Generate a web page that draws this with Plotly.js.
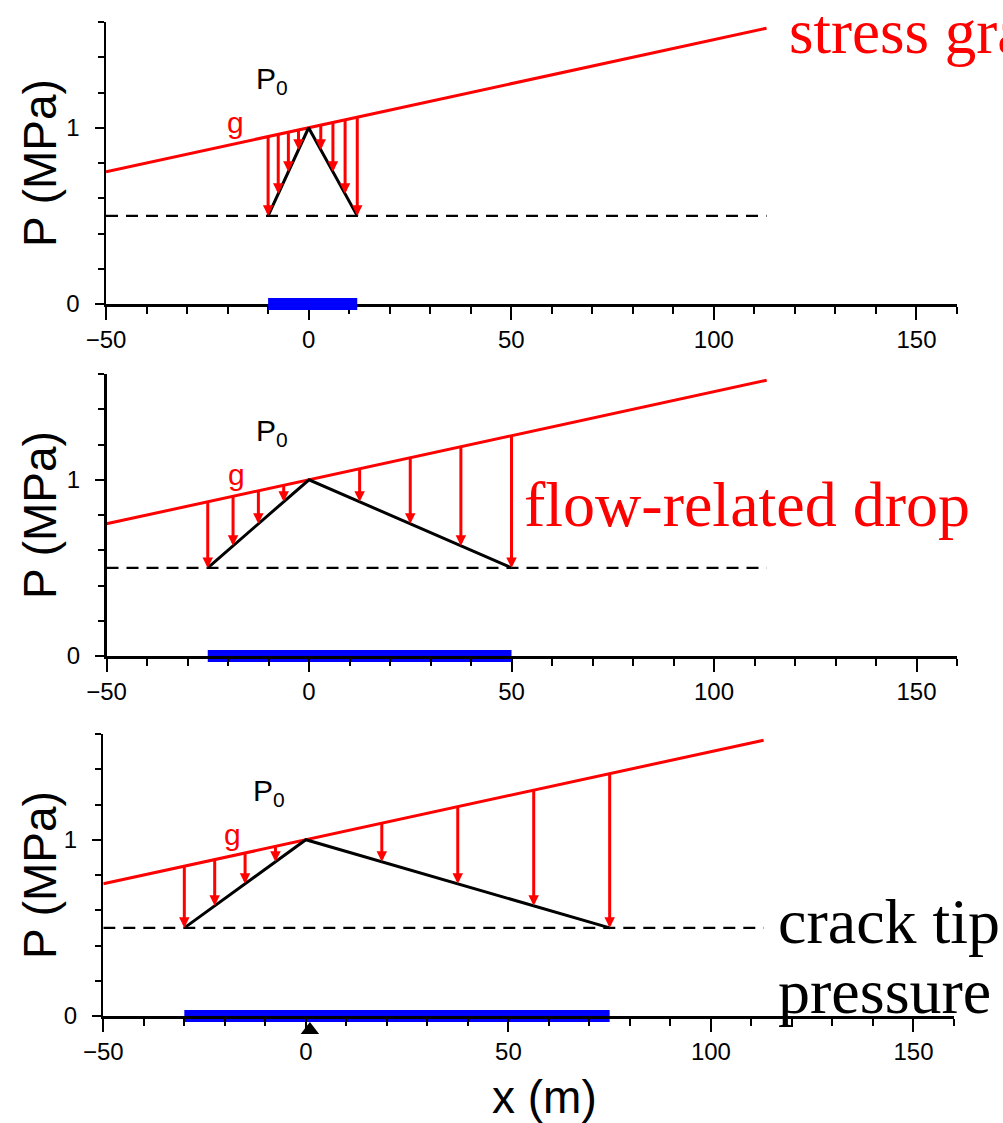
<!DOCTYPE html>
<html><head><meta charset="utf-8">
<script src="https://cdn.plot.ly/plotly-3.0.1.min.js"></script>
<style>html,body{margin:0;padding:0;background:#fff}</style>
</head><body><div id="chart" style="width:1003px;height:1123px"></div>
<script>
// ---------- data ----------
const xRange = [-50, 160];
const yRange = [0, 1.6];
const stressX = [-50, 113];
const stressY = [0.75, 1.565];
const tipPressureX = [-50, 113];
const tipPressureY = [0.5, 0.5];

const profile1X = [-10, 0, 12];
const profile1Y = [0.5, 1, 0.5];
const profile2X = [-25, 0, 50];
const profile2Y = [0.5, 1, 0.5];
const profile3X = [-30, 0, 75];
const profile3Y = [0.5, 1, 0.5];

const crack1 = [-10, 12];
const crack2 = [-25, 50];
const crack3 = [-30, 75];

const arrows1X = [-10, -7.5, -5, -2.5, 3, 6, 9, 12];
const arrows1Top = [0.95, 0.9625, 0.975, 0.9875, 1.015, 1.03, 1.045, 1.06];
const arrows1Bottom = [0.5, 0.625, 0.75, 0.875, 0.875, 0.75, 0.625, 0.5];

const arrows2X = [-25, -18.75, -12.5, -6.25, 12.5, 25, 37.5, 50];
const arrows2Top = [0.875, 0.906, 0.9375, 0.969, 1.0625, 1.125, 1.1875, 1.25];
const arrows2Bottom = [0.5, 0.625, 0.75, 0.875, 0.875, 0.75, 0.625, 0.5];

const arrows3X = [-30, -22.5, -15, -7.5, 18.75, 37.5, 56.25, 75];
const arrows3Top = [0.85, 0.8875, 0.925, 0.9625, 1.094, 1.1875, 1.281, 1.375];
const arrows3Bottom = [0.5, 0.625, 0.75, 0.875, 0.875, 0.75, 0.625, 0.5];

const injectionX = [1];
const injectionY = [0.5];

// ---------- layout helpers ----------
const W = 1003, H = 1123;
const SANS = 'Liberation Sans, Arial, sans-serif';
const SERIF = 'Liberation Serif, Times New Roman, serif';
const RED = '#ff0000', BLUE = '#0000ff';

function px2fx(p) { return p / W; }
function px2fy(p) { return 1 - p / H; }

function xAxis(dom, anchor) {
  return {
    domain: dom, range: xRange, anchor: anchor, showgrid: false, zeroline: false,
    showline: true, linecolor: 'black', linewidth: 2.5, mirror: false,
    ticks: 'outside', ticklen: 13, tickwidth: 2, tickcolor: 'black',
    tick0: 0, dtick: 50, ticklabelstandoff: 0,
    tickfont: {family: SANS, size: 24, color: 'black'},
    minor: {dtick: 10, tick0: 0, ticks: 'outside', ticklen: 7, tickwidth: 2, tickcolor: 'black', showgrid: false},
    fixedrange: true
  };
}
function yAxis(dom, anchor) {
  return {
    domain: dom, range: yRange, anchor: anchor, showgrid: false, zeroline: false,
    showline: true, linecolor: 'black', linewidth: 2.5,
    ticks: 'outside', ticklen: 9, tickwidth: 2, tickcolor: 'black',
    tick0: 0, dtick: 1, ticklabelstandoff: 10,
    tickfont: {family: SANS, size: 24, color: 'black'},
    minor: {dtick: 0.2, tick0: 0, ticks: 'outside', ticklen: 6, tickwidth: 2, tickcolor: 'black', showgrid: false},
    fixedrange: true
  };
}

const panels = [
  {xa: 'x', ya: 'y', px: [106, 957], py: [22, 304], profX: profile1X, profY: profile1Y, crack: crack1,
   ax: arrows1X, at: arrows1Top, ab: arrows1Bottom, barLayer: 'above'},
  {xa: 'x2', ya: 'y2', px: [106.5, 957], py: [374, 656], profX: profile2X, profY: profile2Y, crack: crack2,
   ax: arrows2X, at: arrows2Top, ab: arrows2Bottom, barLayer: 'below'},
  {xa: 'x3', ya: 'y3', px: [103.3, 954], py: [734, 1016], profX: profile3X, profY: profile3Y, crack: crack3,
   ax: arrows3X, at: arrows3Top, ab: arrows3Bottom, barLayer: 'below'}
];

const traces = [];
const shapes = [];
const annotations = [];
const layout = {
  width: W, height: H, margin: {l: 0, r: 0, t: 0, b: 0},
  paper_bgcolor: 'white', plot_bgcolor: 'rgba(0,0,0,0)', showlegend: false,
  font: {family: SANS, color: 'black'}
};

panels.forEach((p, i) => {
  const xName = i === 0 ? 'xaxis' : 'xaxis' + (i + 1);
  const yName = i === 0 ? 'yaxis' : 'yaxis' + (i + 1);
  layout[xName] = xAxis([px2fx(p.px[0]), px2fx(p.px[1])], p.ya);
  layout[yName] = yAxis([px2fy(p.py[1]), px2fy(p.py[0])], p.xa);

  traces.push({x: stressX, y: stressY, xaxis: p.xa, yaxis: p.ya, mode: 'lines',
    line: {color: RED, width: 3}, hoverinfo: 'skip'});
  traces.push({x: tipPressureX, y: tipPressureY, xaxis: p.xa, yaxis: p.ya, mode: 'lines',
    line: {color: 'black', width: 2.2, dash: '12px,8px'}, hoverinfo: 'skip'});
  traces.push({x: p.profX, y: p.profY, xaxis: p.xa, yaxis: p.ya, mode: 'lines',
    line: {color: 'black', width: 3}, hoverinfo: 'skip'});

  shapes.push({type: 'rect', xref: p.xa, yref: p.ya + ' domain', x0: p.crack[0], x1: p.crack[1],
    y0: -0.021, y1: 0.021, fillcolor: BLUE, line: {width: 0}, layer: p.barLayer});

  p.ax.forEach((xv, k) => {
    annotations.push({xref: p.xa, yref: p.ya, axref: p.xa, ayref: p.ya,
      x: xv, y: p.ab[k], ax: xv, ay: p.at[k], text: '', showarrow: true,
      arrowhead: 2, arrowsize: 0.7, arrowwidth: 3, arrowcolor: RED,
      standoff: 0, startstandoff: 0, borderpad: 0});
  });

  annotations.push({xref: p.xa, yref: p.ya, x: -13.5, y: 1.27, xanchor: 'left', yanchor: 'middle',
    text: 'P<sub>0</sub>', showarrow: false, font: {family: SANS, size: 30, color: 'black'}});
  annotations.push({xref: p.xa, yref: p.ya, x: -18, y: 1.03, xanchor: 'center', yanchor: 'middle',
    text: 'g', showarrow: false, font: {family: SANS, size: 30, color: RED}});

  annotations.push({xref: 'paper', yref: 'paper', x: px2fx(40), y: px2fy((p.py[0] + p.py[1]) / 2),
    xanchor: 'center', yanchor: 'middle', textangle: -90, text: 'P (MPa)', showarrow: false,
    font: {family: SANS, size: 46, color: 'black'}});
});

// injection point marker: a thin hidden y-axis strip just under the bottom panel's x axis
layout.yaxis4 = {domain: [px2fy(1042), px2fy(1018)], range: [0, 1], anchor: 'x3', visible: false, fixedrange: true};
traces.push({x: injectionX, y: injectionY, xaxis: 'x3', yaxis: 'y4', mode: 'markers', cliponaxis: false,
  marker: {symbol: 'triangle-up', size: 16, color: 'black', line: {width: 0}}, hoverinfo: 'skip'});

annotations.push({xref: 'paper', yref: 'paper', x: px2fx(544), y: px2fy(1097), xanchor: 'center', yanchor: 'middle',
  text: 'x (m)', showarrow: false, font: {family: SANS, size: 46, color: 'black'}});

annotations.push({xref: 'paper', yref: 'paper', x: px2fx(787), y: px2fy(32), xanchor: 'left', yanchor: 'middle',
  text: 'stress gradient', showarrow: false, font: {family: SERIF, size: 63, color: RED}});
annotations.push({xref: 'paper', yref: 'paper', x: px2fx(522), y: px2fy(504), xanchor: 'left', yanchor: 'middle',
  text: 'flow-related drop', showarrow: false, font: {family: SERIF, size: 64, color: RED}});
annotations.push({xref: 'paper', yref: 'paper', x: px2fx(776), y: px2fy(921), xanchor: 'left', yanchor: 'middle',
  text: 'crack tip', showarrow: false, font: {family: SERIF, size: 64, color: 'black'}});
annotations.push({xref: 'paper', yref: 'paper', x: px2fx(776), y: px2fy(991), xanchor: 'left', yanchor: 'middle',
  text: 'pressure', showarrow: false, font: {family: SERIF, size: 64, color: 'black'}});

layout.shapes = shapes;
layout.annotations = annotations;

Plotly.newPlot('chart', traces, layout, {displayModeBar: false, staticPlot: true});
</script>
</body></html>
